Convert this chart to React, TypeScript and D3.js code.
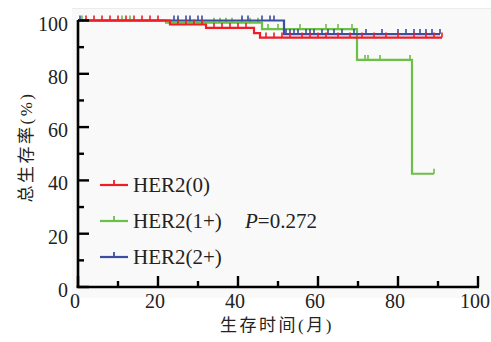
import React from "react";
import * as d3 from "d3";

// Kaplan-Meier step data: [time (months), survival (%)]
const redSteps: [number, number][] = [[0, 100], [23, 98.5], [32, 97.2], [44, 95.3], [45.5, 93.6], [91, 93.6]];
const greenSteps: [number, number][] = [[0, 100], [22, 99.2], [46, 96.8], [69.75, 85.2], [83.5, 42.5], [89, 42.5]];
const blueSteps: [number, number][] = [[0, 100], [51.5, 94.9], [90.5, 94.9]];

const redCensor = [2, 4, 6, 8, 10, 12, 14, 16, 18, 20, 25, 27, 29, 31, 34, 36, 38, 40, 42, 47, 49, 51, 53, 56, 58, 60, 62, 65, 68, 71, 74, 77, 80, 84, 87, 89, 91];
const greenCensor = [1, 11, 13, 25, 28, 34, 35.5, 37, 38.5, 41, 43, 45, 47.5, 50, 55.5, 62, 65, 68.5, 71.75, 72.5, 75.5, 83, 89];
const blueCensor = [0.5, 24, 25, 27, 28, 30, 31, 41, 42.5, 46, 48, 49, 52, 53, 54, 55, 57, 58, 59, 61, 62.5, 64, 66, 69, 72, 76, 80, 82, 84, 85.5, 87, 88.5, 90.5];

const xTicks = [0, 20, 40, 60, 80, 100];
const yTicks = [0, 20, 40, 60, 80, 100];
const minorTicks = [10, 30, 50, 70, 90];

const legendLabels = ["HER2(0)", "HER2(1+)", "HER2(2+)"];
const pValue = "=0.272";

const RED = "#ee1d26";
const GREEN = "#6cbf47";
const BLUE = "#3b4ea2";

const x = d3.scaleLinear().domain([0, 100]).range([78, 478]);
const y = d3.scaleLinear().domain([0, 100]).range([287, 20.5]);

function stepPath(steps: [number, number][]) {
  const line = d3.line<[number, number]>()
    .x((d) => x(d[0]))
    .y((d) => y(d[1]))
    .curve(d3.curveStepAfter);
  return line(steps) || "";
}

function survAt(steps: [number, number][], t: number) {
  let v = steps[0][1];
  for (const s of steps) if (s[0] <= t) v = s[1];
  return v;
}

function Curve({ steps, censor, color }: { steps: [number, number][]; censor: number[]; color: string }) {
  return (
    <g>
      <path d={stepPath(steps)} fill="none" stroke={color} strokeWidth={2.2} />
      {censor.map((t, i) => {
        const yy = y(survAt(steps, t));
        return <line key={i} x1={x(t)} x2={x(t)} y1={yy} y2={yy - 5} stroke={color} strokeWidth={1.6} />;
      })}
    </g>
  );
}

const SERIF = "Liberation Serif, Times New Roman, serif";
const CJK = "Noto Sans CJK SC, sans-serif";

export default function App() {
  const legendColors = [RED, GREEN, BLUE];
  const legendY = [185, 221, 257];
  return (
    <svg width={491} height={342} style={{ position: "absolute", left: 0, top: 0 }}>
      <rect x={0} y={0} width={491} height={342} fill="#ffffff" />
      <rect x={72} y={8} width={419} height={290} fill="#f9f9f9" />
      <line x1={72} x2={491} y1={8.5} y2={8.5} stroke="#ececec" strokeWidth={1} />

      {/* curves */}
      <Curve steps={greenSteps} censor={greenCensor} color={GREEN} />
      <Curve steps={blueSteps} censor={blueCensor} color={BLUE} />
      <Curve steps={redSteps} censor={redCensor} color={RED} />

      {/* axes */}
      <line x1={78} x2={78} y1={20} y2={288} stroke="#000" strokeWidth={2.6} />
      <line x1={76.7} x2={479} y1={287} y2={287} stroke="#000" strokeWidth={2.6} />
      {yTicks.map((t) => (
        <line key={"yt" + t} x1={78} x2={89} y1={y(t)} y2={y(t)} stroke="#000" strokeWidth={2.4} />
      ))}
      {minorTicks.map((t) => (
        <line key={"ym" + t} x1={78} x2={84} y1={y(t)} y2={y(t)} stroke="#000" strokeWidth={2.4} />
      ))}
      {xTicks.map((t) => (
        <line key={"xt" + t} x1={x(t)} x2={x(t)} y1={287} y2={276} stroke="#000" strokeWidth={2.4} />
      ))}
      {minorTicks.map((t) => (
        <line key={"xm" + t} x1={x(t)} x2={x(t)} y1={287} y2={281} stroke="#000" strokeWidth={2.4} />
      ))}

      {/* tick labels */}
      {yTicks.map((t) => (
        <text key={"yl" + t} x={68} y={y(t) + 10} textAnchor="end" fontFamily={SERIF} fontSize={20} fill="#222">
          {t}
        </text>
      ))}
      {xTicks.map((t) => (
        <text key={"xl" + t} x={x(t) - 3} y={308} textAnchor="middle" fontFamily={SERIF} fontSize={20} fill="#222">
          {t}
        </text>
      ))}

      {/* axis titles */}
      <text x={277} y={331} textAnchor="middle" fontFamily={CJK} fontSize={17} letterSpacing={2.5} fill="#222">
        生存时间<tspan fontFamily={SERIF}>(</tspan>月<tspan fontFamily={SERIF}>)</tspan>
      </text>
      <text transform="translate(32,147) rotate(-90)" textAnchor="middle" fontFamily={CJK} fontSize={17} letterSpacing={2.5} fill="#222">
        总生存率<tspan fontFamily={SERIF}>(%)</tspan>
      </text>

      {/* legend */}
      {legendLabels.map((lab, i) => (
        <g key={lab}>
          <line x1={100} x2={128} y1={legendY[i]} y2={legendY[i]} stroke={legendColors[i]} strokeWidth={2.2} />
          <line x1={114} x2={114} y1={legendY[i]} y2={legendY[i] - 5} stroke={legendColors[i]} strokeWidth={1.8} />
          <text x={133} y={legendY[i] + 7} fontFamily={SERIF} fontSize={21} fill="#222">
            {lab}
          </text>
        </g>
      ))}
      <text x={245} y={legendY[1] + 7} fontFamily={SERIF} fontSize={21} fill="#222">
        <tspan fontStyle="italic">P</tspan>
        {pValue}
      </text>
    </svg>
  );
}
